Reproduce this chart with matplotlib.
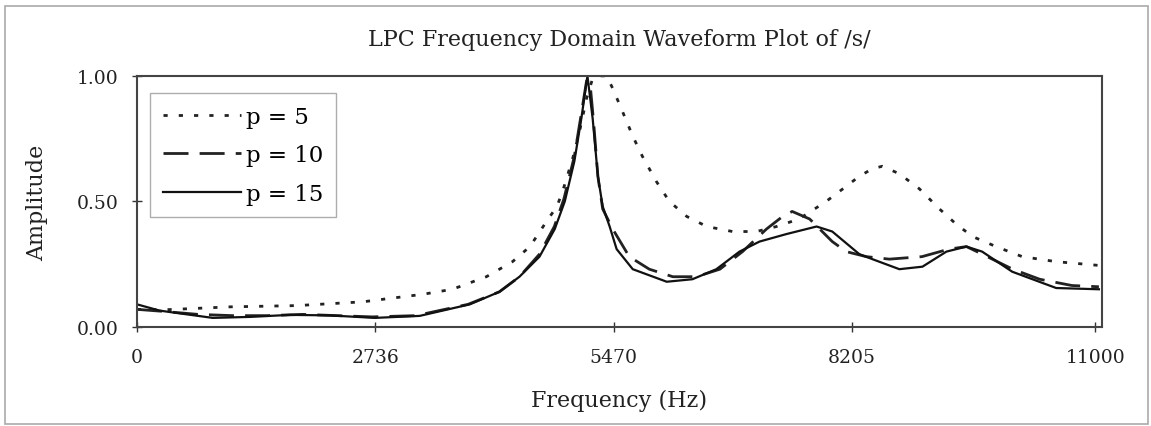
import matplotlib
matplotlib.use("Agg")
import matplotlib.pyplot as plt
from matplotlib.patches import Rectangle

# frequency (Hz) / amplitude
freq_p5 = [0, 300, 1070, 1835, 2590, 3280, 3620, 4010, 4310, 4510, 4700, 4820, 4885,
           5000, 5080, 5160, 5230, 5310, 5390, 5460, 5570, 5690, 5800, 5960, 6110,
           6310, 6540, 6835, 7110, 7340, 7600, 7910, 8140, 8290, 8440, 8555, 8750,
           8980, 9210, 9400, 9590, 9860, 10160, 10550, 11040]
amp_p5 = [0.07, 0.068, 0.08, 0.085, 0.10, 0.13, 0.15, 0.20, 0.26, 0.32, 0.42, 0.48, 0.54,
          0.67, 0.78, 0.91, 0.99, 1.00, 1.00, 0.95, 0.86, 0.76, 0.68, 0.58, 0.50,
          0.44, 0.40, 0.38, 0.38, 0.40, 0.43, 0.50, 0.56, 0.60, 0.63, 0.64, 0.61,
          0.55, 0.47, 0.41, 0.36, 0.32, 0.28, 0.26, 0.245]

freq_p10 = [0, 300, 700, 1100, 1500, 1900, 2300, 2700, 3200, 3800, 4160, 4390, 4620,
            4790, 4900, 5020, 5100, 5160, 5200, 5240, 5290, 5345, 5460, 5650, 5880,
            6150, 6420, 6690, 6950, 7225, 7410, 7520, 7720, 7980, 8140, 8370, 8635,
            9010, 9320, 9520, 9700, 10050, 10360, 10730, 11040]
amp_p10 = [0.07, 0.062, 0.05, 0.045, 0.045, 0.05, 0.045, 0.04, 0.045, 0.09, 0.14, 0.20, 0.29,
           0.40, 0.51, 0.68, 0.85, 0.98, 0.97, 0.82, 0.60, 0.47, 0.39, 0.28, 0.23,
           0.20, 0.20, 0.23, 0.30, 0.39, 0.44, 0.46, 0.43, 0.34, 0.30, 0.28, 0.27,
           0.28, 0.31, 0.32, 0.29, 0.23, 0.19, 0.165, 0.16]

freq_p15 = [0, 260, 870, 1300, 1755, 2210, 2730, 3245, 3820, 4160, 4390, 4620, 4795,
            4910, 5020, 5100, 5170, 5230, 5290, 5345, 5425, 5505, 5690, 6080, 6375,
            6650, 6915, 7145, 7455, 7800, 7980, 8290, 8440, 8750, 9015, 9290, 9520,
            9700, 10045, 10355, 10550, 11040]
amp_p15 = [0.09, 0.065, 0.036, 0.04, 0.048, 0.046, 0.036, 0.044, 0.09, 0.14, 0.20, 0.28, 0.39,
           0.50, 0.66, 0.83, 1.00, 0.83, 0.60, 0.48, 0.40, 0.31, 0.23, 0.18, 0.19,
           0.23, 0.30, 0.34, 0.37, 0.40, 0.38, 0.29, 0.27, 0.23, 0.24, 0.30, 0.32,
           0.30, 0.22, 0.18, 0.155, 0.15]

xticks = [0, 2736, 5470, 8205, 11000]
yticks = [0.0, 0.5, 1.0]

plt.rcParams['font.family'] = ['DejaVu Serif']

fig = plt.figure(figsize=(11.51, 4.27), dpi=100)
ax = fig.add_axes([0.119, 0.232, 0.838, 0.588])

ax.plot(freq_p5, amp_p5, color='#222222', lw=2.0, linestyle=(0, (1.5, 4.0)), label='p = 5')
ax.plot(freq_p10, amp_p10, color='#222222', lw=2.0, linestyle=(0, (9, 4)), label='p = 10')
ax.plot(freq_p15, amp_p15, color='#111111', lw=1.6, label='p = 15')

ax.set_xlim(0, 11070)
ax.set_ylim(0, 1)
ax.set_xticks(xticks)
ax.set_xticklabels([str(t) for t in xticks])
ax.set_yticks(yticks)
ax.set_yticklabels(['%.2f' % t for t in yticks])
ax.tick_params(direction='inout', length=7, width=1, colors='#333333', labelsize=13.5,
               labelcolor='#222222')
ax.tick_params(axis='x', pad=12)
ax.tick_params(axis='y', pad=10)
for s in ax.spines.values():
    s.set_color('#444444')
    s.set_linewidth(1.5)

ax.set_title('LPC Frequency Domain Waveform Plot of /s/', fontsize=16, color='#222222', pad=22)
ax.set_xlabel('Frequency (Hz)', fontsize=16, color='#222222', labelpad=16)
ax.set_ylabel('Amplitude', fontsize=16, color='#222222', labelpad=20)

leg = ax.legend(loc='upper left', bbox_to_anchor=(0.0135, 0.932), borderaxespad=0,
                fontsize=16.5, handlelength=3.4, handletextpad=0.25, labelspacing=0.72,
                fancybox=False, borderpad=0.55)
leg.get_frame().set_edgecolor('#999999')
leg.get_frame().set_linewidth(1.0)

fig.patches.append(Rectangle((0.004, 0.004), 0.993, 0.98, transform=fig.transFigure,
                             fill=False, edgecolor='#aaaaaa', lw=1.2))

fig.savefig('out.png', dpi=100)
